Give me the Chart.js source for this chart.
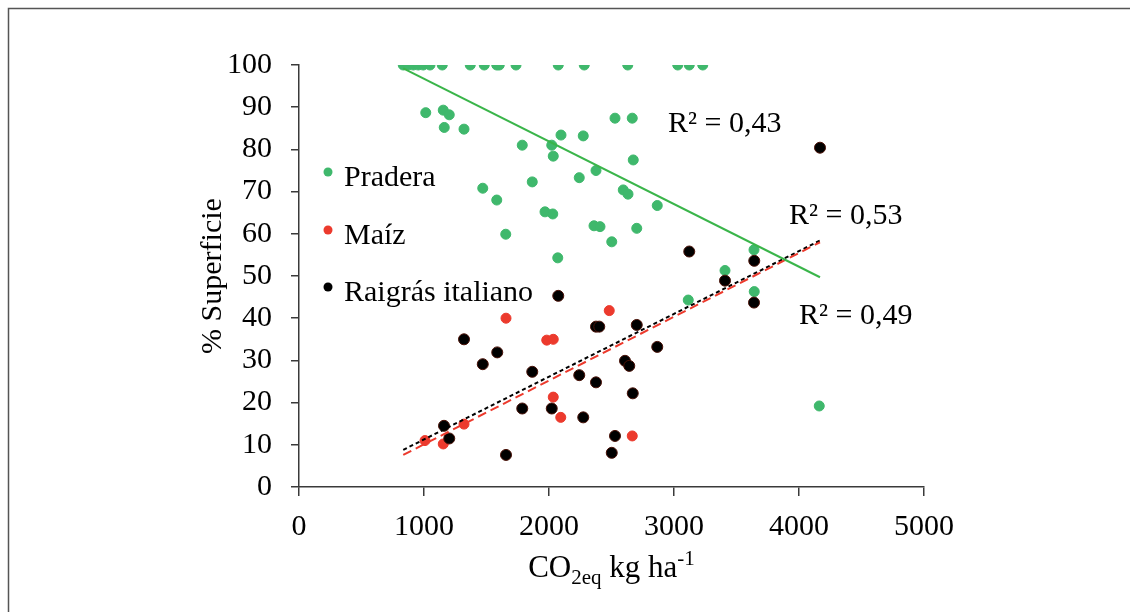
<!DOCTYPE html>
<html>
<head>
<meta charset="utf-8">
<script src="https://cdn.jsdelivr.net/npm/chart.js@4.4.1/dist/chart.umd.min.js"></script>
<style>
  html, body { margin: 0; padding: 0; background: #fff; }
  #wrap { width: 1130px; height: 612px; }
</style>
</head>
<body>
<div id="wrap"><canvas id="c"></canvas></div>
<script>
// series names
var seriesNames = ["Pradera", "Maíz", "Raigrás italiano"];

// Pradera (green)
var praderaX = [834, 874, 914, 954, 994, 1048, 1146, 1370, 1482, 1582, 1602, 1736, 2074, 2282, 2630, 3030, 3122, 3230,
  1014, 1154, 1202, 1162, 1320, 1786, 2096, 2274, 2022, 2034, 2242, 2376, 1866, 1470, 1582, 2528, 2666, 2674,
  2594, 2632, 2866, 1968, 2030, 2360, 2408, 2702, 2502, 1654, 2070, 3640, 3408, 3642, 3114, 4162];
var praderaY = [100, 100, 100, 100, 100, 100, 100, 100, 100, 100, 100, 100, 100, 100, 100, 100, 100, 100,
  88.7, 89.3, 88.2, 85.2, 84.8, 81.0, 83.4, 83.2, 81.0, 78.4, 73.3, 75.0, 72.3, 70.8, 68.0, 87.4, 87.4, 77.5,
  70.4, 69.4, 66.7, 65.2, 64.7, 61.9, 61.7, 61.3, 58.1, 59.9, 54.3, 56.2, 51.3, 46.3, 44.3, 19.2];

// Maíz (red)
var maizX = [1656, 1982, 2034, 2482, 2034, 2094, 1320, 1008, 1154, 2666];
var maizY = [40.0, 34.8, 35.0, 41.8, 21.3, 16.5, 14.9, 11.0, 10.2, 12.1];

// Raigrás italiano (black)
var raigrasX = [4168, 2074, 2376, 2402, 1320, 3122, 3642, 3408, 3640, 2702, 1586, 1470, 1866, 2242, 2376, 1786,
  2022, 2274, 1160, 1202, 1656, 2502, 2528, 2866, 2608, 2642, 2670];
var raigrasY = [80.4, 45.3, 38.0, 38.0, 35.0, 55.8, 53.6, 48.9, 43.7, 38.4, 31.9, 29.1, 27.3, 26.5, 24.8, 18.6,
  18.6, 16.5, 14.5, 11.5, 7.6, 8.1, 12.1, 33.2, 29.9, 28.7, 22.2];

// trend lines (ends)
var trendX = [834, 4168];
var praderaTrend = [99.2, 49.7];
var maizTrend = [7.6, 58.0];
var raigrasTrend = [8.8, 58.4];

// R² labels
var r2Text = ["R² = 0,43", "R² = 0,53", "R² = 0,49"];
var r2X = [2952, 3920, 4000];
var r2Y = [84.1, 62.3, 38.6];

var xTicks = [0, 1000, 2000, 3000, 4000, 5000];

function pts(xs, ys) {
    var out = [];
    for (var i = 0; i < xs.length; i++) out.push({x: xs[i], y: ys[i]});
    return out;
}

var green = "#3fb86c";
var red = "#ec3a2d";
var black = "#000000";
var axisColor = "#3a3a3a";
var serif = "'Liberation Serif', 'Times New Roman', serif";

var overlay = {
    id: "overlay",
    beforeDraw: function(chart) {
        var ctx = chart.ctx;
        ctx.save();
        ctx.fillStyle = "#fff";
        ctx.fillRect(0, 0, chart.width, chart.height);
        ctx.strokeStyle = "#555";
        ctx.lineWidth = 1.5;
        ctx.beginPath();
        ctx.moveTo(8.5, chart.height);
        ctx.lineTo(8.5, 8.5);
        ctx.lineTo(chart.width, 8.5);
        ctx.stroke();
        ctx.restore();
    },
    afterDraw: function(chart) {
        var ctx = chart.ctx;
        var xs = chart.scales.x, ys = chart.scales.y;
        ctx.save();
        ctx.fillStyle = "#000";
        ctx.textBaseline = "alphabetic";
        ctx.textAlign = "left";

        // legend
        var cols = [green, red, black];
        var legY = [172, 230, 287];
        for (var i = 0; i < seriesNames.length; i++) {
            ctx.fillStyle = cols[i];
            ctx.beginPath();
            ctx.arc(328, legY[i], 4.5, 0, Math.PI * 2);
            ctx.fill();
            ctx.fillStyle = "#000";
            ctx.font = "30px " + serif;
            ctx.fillText(seriesNames[i], 344, legY[i] + 14);
        }

        // R² labels
        ctx.font = "30px " + serif;
        for (var j = 0; j < r2Text.length; j++) {
            ctx.fillText(r2Text[j], xs.getPixelForValue(r2X[j]), ys.getPixelForValue(r2Y[j]));
        }

        // x axis title with sub/superscript
        var parts = [
            {t: "CO", f: 31, dy: 0},
            {t: "2eq", f: 21, dy: 7},
            {t: " kg ha", f: 31, dy: 0},
            {t: "-1", f: 21, dy: -12}
        ];
        var total = 0;
        parts.forEach(function(p) { ctx.font = p.f + "px " + serif; p.w = ctx.measureText(p.t).width; total += p.w; });
        var cx = (chart.chartArea.left + chart.chartArea.right) / 2;
        var px = cx - total / 2;
        var base = 577;
        parts.forEach(function(p) {
            ctx.font = p.f + "px " + serif;
            ctx.fillText(p.t, px, base + p.dy);
            px += p.w;
        });
        ctx.restore();
    }
};

var scatterBase = {
    type: "scatter",
    showLine: false,
    pointRadius: 5,
    pointHoverRadius: 5,
    pointBorderWidth: 1
};

new Chart(document.getElementById("c"), {
    type: "scatter",
    data: {
        datasets: [
            {
                type: "line", label: "trend Pradera", data: pts(trendX, praderaTrend),
                borderColor: "#3ab54a", borderWidth: 2, pointRadius: 0, fill: false, order: 0
            },
            {
                type: "line", label: "trend Maíz", data: pts(trendX, maizTrend),
                borderColor: red, borderWidth: 2, borderDash: [9, 5], pointRadius: 0, fill: false, order: 0
            },
            {
                type: "line", label: "trend Raigrás", data: pts(trendX, raigrasTrend),
                borderColor: black, borderWidth: 2, borderDash: [4, 3], pointRadius: 0, fill: false, order: 0
            },
            Object.assign({}, scatterBase, {
                label: seriesNames[2], data: pts(raigrasX, raigrasY),
                backgroundColor: black, borderColor: "#4a1208", pointRadius: 5.5, order: 1
            }),
            Object.assign({}, scatterBase, {
                label: seriesNames[1], data: pts(maizX, maizY),
                backgroundColor: red, borderColor: red, order: 2
            }),
            Object.assign({}, scatterBase, {
                label: seriesNames[0], data: pts(praderaX, praderaY),
                backgroundColor: green, borderColor: green, order: 3
            })
        ]
    },
    options: {
        responsive: true,
        maintainAspectRatio: false,
        animation: false,
        layout: { padding: { left: 195, right: 206, top: 65, bottom: 0 } },
        plugins: {
            legend: { display: false },
            tooltip: { enabled: false }
        },
        scales: {
            x: {
                type: "linear",
                min: 0, max: 5000,
                afterBuildTicks: function(scale) {
                    scale.ticks = xTicks.map(function(v) { return {value: v}; });
                },
                afterFit: function(scale) { scale.height = 125; },
                grid: { drawOnChartArea: false, drawTicks: true, tickLength: 9, color: axisColor, lineWidth: 1.5 },
                border: { display: true, color: axisColor, width: 1.5 },
                ticks: {
                    color: "#000", padding: 13, maxRotation: 0, font: { family: serif, size: 30 },
                    callback: function(v) { return String(v); }
                }
            },
            y: {
                type: "linear",
                min: 0, max: 100,
                afterFit: function(scale) { scale.width = 104; },
                grid: { drawOnChartArea: false, drawTicks: true, tickLength: 8, color: axisColor, lineWidth: 1.5 },
                border: { display: true, color: axisColor, width: 1.5 },
                ticks: {
                    stepSize: 10, color: "#000", padding: 19, font: { family: serif, size: 30 },
                    callback: function(v) { return String(v); }
                },
                title: {
                    display: true, text: "% Superficie", color: "#000",
                    padding: 0, font: { family: serif, size: 30 }
                }
            }
        }
    },
    plugins: [overlay]
});
</script>
</body>
</html>
